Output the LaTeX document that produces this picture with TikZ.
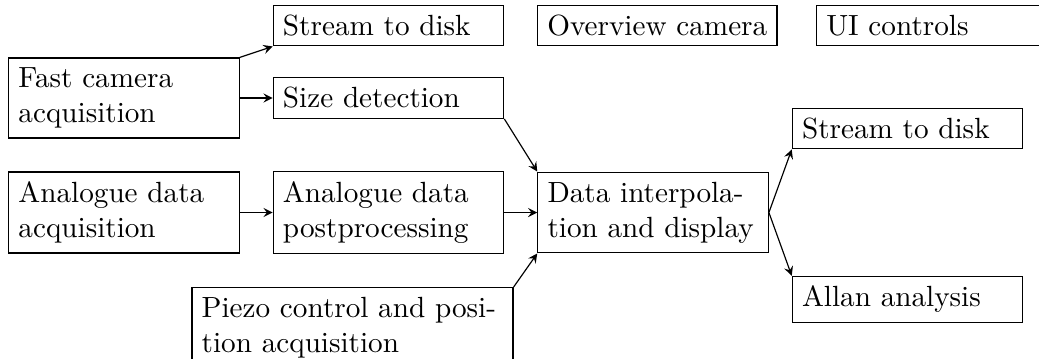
\documentclass[tikz,border=0pt]{standalone}
\usepackage{tikz}

\begin{document}
\begin{tikzpicture}[>=stealth,
		block/.style={draw, text width=1in, align=left},
		wideblock/.style={draw, text width=3.63cm, align=left}]
		%%%%% START %%%%%
		\useasboundingbox (0, 0) rectangle (12.505, 4.309);
		
		\node[block] (stream1) at (4.676, 4.002) {Stream to disk};
		\node[draw, anchor=west] (overview) at (6.463, 4.002) {Overview camera};
		\node[block, anchor=west] (ui) at (9.821, 4.002) {UI controls};
		
		\node[block] (fast) at (1.492, 3.129) {Fast camera acquisition};
		\node[block] (size) at (4.676, 3.129) {Size detection};
		
		\node[block] (adaq) at (1.492, 1.751) {Analogue data acquisition};
		\node[block] (post) at (4.676, 1.751) {Analogue data postprocessing};
		\node[block] (interp) at (7.860, 1.751) {Data interpolation and display};
		
		\node[wideblock, anchor=north] (piezo) at (4.243, 0.855) {Piezo control and position acquisition};
		
		\node[block] (stream2) at (10.923, 2.762) {Stream to disk};
		\node[block] (allan) at (10.923, 0.704) {Allan analysis};
		
		\draw[->] (fast.north east) -- (stream1.south west);
		\draw[->] (fast.east) -- (size.west);
		\draw[->] (size.south east) -- (interp.north west);
		\draw[->] (adaq) -- (post);
		\draw[->] (post) -- (interp);
		\draw[->] (piezo.north east) -- (interp.south west);
		\draw[->] (interp.east) -- (stream2.south west);
		\draw[->] (interp.east) -- (allan.north west);
		%%%%% END %%%%%
\end{tikzpicture}
\end{document}
